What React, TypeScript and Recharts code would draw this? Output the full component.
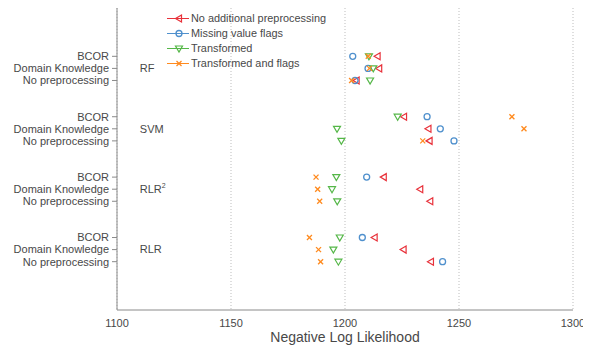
import React from 'react';
import { ScatterChart, Scatter, XAxis, YAxis, CartesianGrid, Legend } from 'recharts';

const models = ['RLR', 'RLR', 'SVM', 'RF'];
const modelSup = ['', '2', '', ''];
const methods = ['No preprocessing', 'Domain Knowledge', 'BCOR'];
const xTicks = [1100, 1150, 1200, 1250, 1300];

// order: for each model (RLR, RLR², SVM, RF): No preprocessing, Domain Knowledge, BCOR
const noAdditional = [1237.7, 1225.7, 1213, 1237.4, 1233, 1217, 1237.1, 1236.6, 1225.9, 1205.1, 1215, 1214.3];
const missingFlags = [1242.8, null, 1207.6, null, null, 1209.5, 1247.8, 1241.8, 1236, 1204.4, 1210.1, 1203.4];
const transformed = [1197.1, 1194.9, 1197.7, 1196.6, 1194.3, 1196.2, 1198.4, 1196.5, 1223.1, 1211, 1212.4, 1210.5];
const transformedFlags = [1189.3, 1188.4, 1184.4, 1188.9, 1188, 1187.3, 1234.1, 1278.5, 1273.2, 1202.9, 1210.7, 1210.2];
const labelX = 1110;

const seriesNames = ['No additional preprocessing', 'Missing value flags', 'Transformed', 'Transformed and flags'];
const colors = ['#e8313a', '#4f90cd', '#55b748', '#ff8a1e'];

const GAP = 5;
const rowY = (i: number) => Math.floor(i / 3) * GAP + (i % 3);

const toPoints = (vals: (number | null)[]) =>
  vals.map((v, i) => ({ x: v, y: rowY(i) })).filter((p) => p.x !== null);

const yTicks: number[] = [];
models.forEach((_, m) => methods.forEach((_, k) => yTicks.push(m * GAP + k)));

const groupLabels = models.map((name, m) => ({ x: labelX, y: m * GAP + 1, name, sup: modelSup[m] }));

const FONT = '"Liberation Sans", Arial, sans-serif';
const TEXT = '#484848';
const AXIS = '#8a8a8a';

function Marker({ kind, cx, cy }: { kind: number; cx: number; cy: number }) {
  const c = colors[kind];
  if (kind === 0)
    return <polygon points={`${cx - 3.5},${cy} ${cx + 2.5},${cy - 3.5} ${cx + 2.5},${cy + 3.5}`} fill="none" stroke={c} strokeWidth={1.2} />;
  if (kind === 1) return <circle cx={cx} cy={cy} r={3} fill="none" stroke={c} strokeWidth={1.3} />;
  if (kind === 2)
    return <polygon points={`${cx - 3.5},${cy - 2.5} ${cx + 3.5},${cy - 2.5} ${cx},${cy + 3.5}`} fill="none" stroke={c} strokeWidth={1.2} />;
  return (
    <g stroke={c} strokeWidth={1.3}>
      <line x1={cx - 2.5} y1={cy - 2.5} x2={cx + 2.5} y2={cy + 2.5} />
      <line x1={cx - 2.5} y1={cy + 2.5} x2={cx + 2.5} y2={cy - 2.5} />
    </g>
  );
}

const renderLegend = () => (
  <svg width={200} height={70} style={{ display: 'block' }}>
    {seriesNames.map((n, i) => {
      const y = 10.5 + i * 15;
      return (
        <g key={n}>
          <line x1={4} x2={26} y1={y} y2={y} stroke={colors[i]} strokeWidth={1} />
          <Marker kind={i} cx={16} cy={y} />
          <text x={28} y={y} dy="0.35em" fontSize={10.9} fill={TEXT} fontFamily={FONT}>
            {n}
          </text>
        </g>
      );
    })}
  </svg>
);

const GroupLabel = (props: any) => {
  const { cx, cy, payload } = props;
  return (
    <text x={cx} y={cy} dy="0.35em" fontSize={11} fill={TEXT} fontFamily={FONT}>
      {payload.name}
      {payload.sup ? (
        <tspan fontSize={7} dy={-5}>
          {payload.sup}
        </tspan>
      ) : null}
    </text>
  );
};

const YTick = (props: any) => {
  const { x, y, payload } = props;
  return (
    <text x={x} y={y} dy="0.35em" textAnchor="end" fontSize={11} fill={TEXT} fontFamily={FONT}>
      {methods[payload.value % GAP]}
    </text>
  );
};

const allSeries = [noAdditional, missingFlags, transformed, transformedFlags];

export default function App() {
  return (
    <ScatterChart width={583} height={338} margin={{ top: 0, right: 18, bottom: 6, left: 0 }}>
      <CartesianGrid horizontal={false} stroke="#bdbdbd" strokeDasharray="1 2" />
      <XAxis
        type="number"
        dataKey="x"
        domain={[1100, 1300]}
        ticks={xTicks}
        tickLine={false}
        axisLine={{ stroke: AXIS }}
        tick={{ fontSize: 11, fill: TEXT, fontFamily: FONT }}
        tickMargin={3}
        height={30}
        label={{ value: 'Negative Log Likelihood', position: 'insideBottom', offset: -2, fontSize: 14, fill: TEXT, fontFamily: FONT }}
      />
      <YAxis
        type="number"
        dataKey="y"
        domain={[-4, 21]}
        ticks={yTicks}
        interval={0}
        width={109}
        tickSize={5}
        tickMargin={3}
        axisLine={{ stroke: AXIS }}
        tickLine={{ stroke: AXIS }}
        tick={<YTick />}
      />
      <Legend
        layout="vertical"
        align="center"
        verticalAlign="middle"
        content={renderLegend}
        wrapperStyle={{ left: 155, top: 0, width: 200, height: 70 }}
      />
      <Scatter data={groupLabels} shape={GroupLabel} isAnimationActive={false} legendType="none" />
      {allSeries.map((vals, i) => (
        <Scatter
          key={seriesNames[i]}
          name={seriesNames[i]}
          data={toPoints(vals)}
          isAnimationActive={false}
          shape={(p: any) => <Marker kind={i} cx={p.cx} cy={p.cy} />}
        />
      ))}
    </ScatterChart>
  );
}
